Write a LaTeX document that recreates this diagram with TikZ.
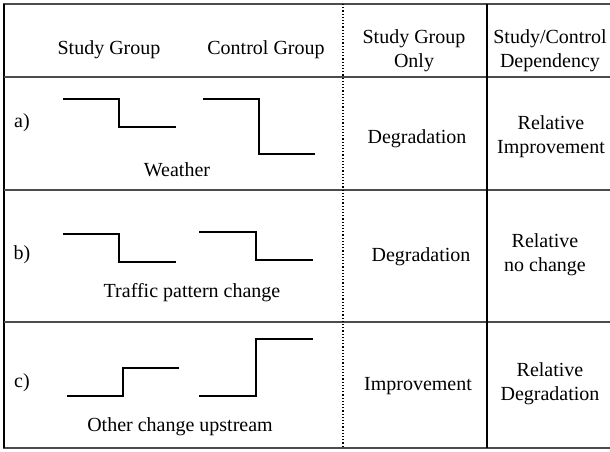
\documentclass[tikz,border=0pt]{standalone}
\usepackage{fontspec}
\setmainfont{Liberation Serif}
\begin{document}
\begin{tikzpicture}[x=1pt,y=-1pt]
\tikzstyle{cadre}=[line width=1.2pt,black!70]
\tikzstyle{marche}=[line width=2.2pt,line cap=rect]
\tikzset{texte/.style={align=center,inner sep=0pt,font=\fontsize{20}{24}\selectfont}}
\useasboundingbox (0,0) rectangle (610,452);
% table
\draw[cadre] (610,4) -- (4,4) -- (4,448) -- (610,448);
\draw[line width=2pt] (4,4) -- (4,448);
\draw[cadre] (4,77) -- (610,77);
\draw[cadre] (4,190) -- (610,190);
\draw[cadre] (4,322) -- (610,322);
\draw[line width=1.2pt,dotted] (343,4) -- (343,448);
\draw[line width=1.2pt] (487,4) -- (487,448);

% header
\node[texte] (hS) at (109,50) {Study Group};
\node[texte] (hC) at (266,50) {Control Group};
\node[texte] (hO) at (414,51) {Study Group\\Only};
\node[texte] (hD) at (550,51) {Study/Control\\Dependency};

% row a
\node[texte] (la) at (22,123) {a)};
\draw[marche] (64,99) -- (119,99) -- (119,127) -- (175,127);
\draw[marche] (204,99) -- (259,99) -- (259,154) -- (314,154);
\node[texte] (wa) at (177,170) {Weather};
\node[texte] (oa) at (417,139) {Degradation};
\node[texte] (da) at (551,137) {Relative\\Improvement};

% row b
\node[texte] (lb) at (22,255) {b)};
\draw[marche] (64,234) -- (119,234) -- (119,262) -- (175,262);
\draw[marche] (200,232) -- (256,232) -- (256,260) -- (312,260);
\node[texte] (wb) at (192,293) {Traffic pattern change};
\node[texte] (ob) at (421,257) {Degradation};
\node[texte] (db) at (545,255) {Relative\\no change};

% row c
\node[texte] (lc) at (22,383) {c)};
\draw[marche] (68,396) -- (123,396) -- (123,368) -- (178,368);
\draw[marche] (200,396) -- (256,396) -- (256,339) -- (312,339);
\node[texte] (wc) at (180,427) {Other change upstream};
\node[texte] (oc) at (418,386) {Improvement};
\node[texte] (dc) at (550,384) {Relative\\Degradation};

\end{tikzpicture}
\end{document}
